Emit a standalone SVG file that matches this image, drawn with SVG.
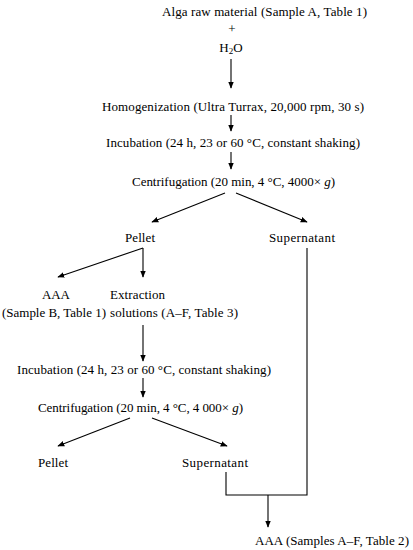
<svg xmlns="http://www.w3.org/2000/svg" width="413" height="550" viewBox="0 0 413 550">
<style>
text{font-family:"Liberation Serif","Times New Roman",serif;font-size:13px;fill:#000}
.m{text-anchor:middle}
.c{stroke:#000;stroke-width:1.1;fill:none}
</style>
<defs>
<marker id="ah" viewBox="0 0 10 10" refX="9" refY="5" markerWidth="7" markerHeight="7" markerUnits="userSpaceOnUse" orient="auto"><path d="M0,1 L10,5 L0,9 Z" fill="#000"/></marker>
</defs>
<rect width="413" height="550" fill="#fff"/>
<g id="connectors">
<line class="c" x1="231" y1="59" x2="231" y2="88" marker-end="url(#ah)"/>
<line class="c" x1="231" y1="115" x2="231" y2="131" marker-end="url(#ah)"/>
<line class="c" x1="231" y1="152" x2="231" y2="169" marker-end="url(#ah)"/>
<line class="c" x1="225" y1="193" x2="152" y2="222" marker-end="url(#ah)"/>
<line class="c" x1="236" y1="193" x2="307" y2="222" marker-end="url(#ah)"/>
<line class="c" x1="143" y1="248" x2="143" y2="277" marker-end="url(#ah)"/>
<line class="c" x1="143" y1="248" x2="58" y2="277" marker-end="url(#ah)"/>
<line class="c" x1="143" y1="325" x2="143" y2="361" marker-end="url(#ah)"/>
<line class="c" x1="143" y1="378" x2="143" y2="397" marker-end="url(#ah)"/>
<line class="c" x1="130" y1="418" x2="58" y2="446" marker-end="url(#ah)"/>
<line class="c" x1="152" y1="418" x2="227" y2="446" marker-end="url(#ah)"/>
<polyline class="c" points="226,472 226,495 307,495 307,248"/>
<line class="c" x1="268" y1="495" x2="268" y2="527" marker-end="url(#ah)"/>
</g>
<g id="n1"><text class="m" x="264.5" y="16" textLength="205">Alga raw material (Sample A, Table 1)</text></g>
<g id="n2"><text class="m" x="232" y="33" font-size="11">+</text></g>
<g id="n3"><text class="m" x="231" y="52">H<tspan font-size="9" dy="2">2</tspan><tspan dy="-2">O</tspan></text></g>
<g id="n4"><text class="m" x="233" y="111" textLength="262">Homogenization (Ultra Turrax, 20,000 rpm, 30 s)</text></g>
<g id="n5"><text class="m" x="233" y="147" textLength="254">Incubation (24 h, 23 or 60 °C, constant shaking)</text></g>
<g id="n6"><text class="m" x="233.5" y="186" textLength="203">Centrifugation (20 min, 4 °C, 4000× <tspan font-style="italic">g</tspan>)</text></g>
<g id="n7"><text class="m" x="140" y="242" textLength="30">Pellet</text></g>
<g id="n8"><text class="m" x="302" y="242" textLength="66">Supernatant</text></g>
<g id="n9"><text class="m" x="56" y="299" textLength="28">AAA</text><text class="m" x="54" y="317" textLength="104">(Sample B, Table 1)</text></g>
<g id="n10"><text x="110" y="299" textLength="55">Extraction</text><text x="110" y="317" textLength="128">solutions (A–F, Table 3)</text></g>
<g id="n11"><text class="m" x="144" y="374" textLength="254">Incubation (24 h, 23 or 60 °C, constant shaking)</text></g>
<g id="n12"><text class="m" x="140.5" y="412" textLength="205">Centrifugation (20 min, 4 °C, 4 000× <tspan font-style="italic">g</tspan>)</text></g>
<g id="n13"><text class="m" x="53" y="467" textLength="30">Pellet</text></g>
<g id="n14"><text class="m" x="215" y="467" textLength="66">Supernatant</text></g>
<g id="n15"><text class="m" x="332" y="545" textLength="154">AAA (Samples A–F, Table 2)</text></g>
</svg>
